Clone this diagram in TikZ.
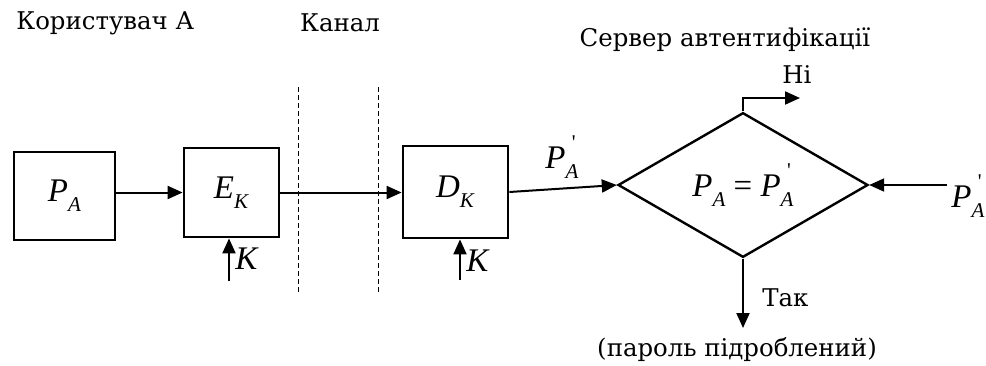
\documentclass[tikz,border=0pt]{standalone}
\usepackage{fontspec}
\setmainfont{Liberation Serif}
\newfontfamily\ukrfont[Script=Cyrillic]{DejaVu Serif}
\usetikzlibrary{arrows.meta,positioning,calc,shapes.geometric}
\newcommand{\txtfont}{\ukrfont\fontsize{12.2}{15}\selectfont}
\newcommand{\labfont}{\fontsize{16.5}{19}\selectfont}
\newcommand{\subfont}{\fontsize{10.5}{12}\selectfont}
\newcommand{\pvar}[2]{\textit{#1}\raisebox{-0.3em}{\subfont\textit{#2}}}
\newcommand{\pvarp}[2]{\textit{#1}\rlap{\raisebox{0.6em}{\subfont\hspace{0.3em}\textquotesingle}}\raisebox{-0.3em}{\subfont\textit{#2}}}
\tikzset{
  box/.style={draw,line width=1.4pt,inner sep=0pt,font=\labfont},
  check/.style={diamond,draw,line width=1.2pt,inner sep=0pt,font=\labfont,
    minimum width=125pt,minimum height=68pt},
  arr/.style={-{Triangle[length=7.5pt,width=6.5pt]},line width=1pt},
  chan/.style={dash pattern=on 2.5pt off 1.5pt,line width=0.5pt},
  lbl/.style={font=\txtfont,inner sep=0pt},
  sym/.style={font=\labfont,inner sep=0pt},
}
\begin{document}
\begin{tikzpicture}[x=0.5pt,y=-0.5pt]
  \useasboundingbox (0,0) rectangle (986,365);
  % titles
  \node[lbl,anchor=west] (usr) at (16,23) {Користувач А};
  \node[lbl] (chn) at (340,23) {Канал};
  \node[lbl] (srv) at (725,40) {Сервер автентифікації};
  % channel borders
  \foreach \x in {298,378} \draw[chan] (\x,87) -- (\x,293);
  % blocks
  \node[box,minimum width=50.5pt,minimum height=44pt] (pa) at (64.5,196) {\pvar{P}{A}};
  \node[box,minimum width=47.5pt,minimum height=44.5pt] (ek) at (231.5,192.5) {\pvar{E}{K}};
  \node[box,minimum width=52.5pt,minimum height=46pt] (dk) at (455.5,192) {\pvar{D}{K}};
  \node[check] (chk) at (743,185) {\pvar{P}{A} = \pvarp{P}{A}};
  % flow
  \draw[arr] (pa.east |- ek.west) -- (ek.west);
  \draw[arr] (ek.east) -- (ek.east -| dk.west);
  \draw[arr] (dk.east) -- (chk.west);
  \node[sym] (pdl) at (562,157) {\pvarp{P}{A}};
  % keys
  \coordinate (kE) at (229,281);
  \draw[arr] (kE) -- (kE |- ek.south);
  \node[sym,anchor=west] (kEl) at (235,259) {\textit{K}};
  \coordinate (kD) at (460,280);
  \draw[arr] (kD) -- (kD |- dk.south);
  \node[sym,anchor=west] (kDl) at (466,261) {\textit{K}};
  % decision outputs
  \coordinate (no) at (800,98);
  \draw[arr] (chk.north) |- (no);
  \node[lbl] (nol) at (797,75) {Ні};
  \coordinate (pin) at (947,185);
  \draw[arr] (pin) -- (chk.east);
  \node[sym,anchor=west] (pinl) at (951,196) {\pvarp{P}{A}};
  \coordinate (yes) at (743,328);
  \draw[arr] (chk.south) -- (yes);
  \node[lbl,anchor=west] (yesl) at (762,298) {Так};
  \node[lbl] (yesn) at (737,350) {(пароль підроблений)};
\end{tikzpicture}
\end{document}
